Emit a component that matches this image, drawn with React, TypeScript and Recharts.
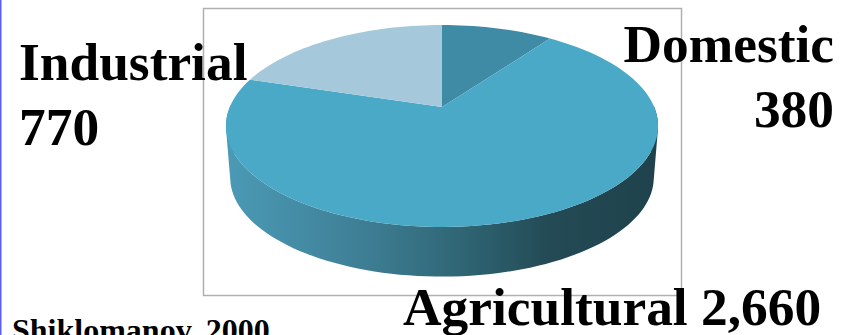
import { PieChart, Pie, Cell } from "recharts";

const sectors = ["Domestic", "Agricultural", "Industrial"];
const withdrawals = [380, 2660, 770];
const topColors = ["#3f8aa5", "#49a9c6", "#a5c9da"];

const chartData = sectors.map((name, i) => ({ name, value: withdrawals[i] }));

const WIDTH = 847;
const HEIGHT = 335;

// tilted disc: perspective makes the far side shorter than the near side
const TILT = 0.188;
const topFace = { x: 442, y: 107, a: 212.2, b: 97.4 };
const bottomFace = { x: 442, y: 159, a: 208, b: 95.5 };

type Face = typeof topFace;

const project = (face: Face, angle: number): number[] => {
  const rad = (angle * Math.PI) / 180;
  const u = Math.cos(rad);
  const v = Math.sin(rad);
  const d = 1 + TILT * v;
  return [face.x + (face.a * u) / d, face.y - (face.b * v) / d];
};

const arcAngles = (start: number, end: number): number[] => {
  const steps = Math.max(2, Math.ceil(Math.abs(end - start) / 2));
  const out: number[] = [];
  for (let i = 0; i <= steps; i++) out.push(start + ((end - start) * i) / steps);
  return out;
};

const toPath = (pts: number[][]) =>
  `M${pts.map((p) => `${p[0].toFixed(2)},${p[1].toFixed(2)}`).join("L")}Z`;

const signedArea = (pts: number[][]) =>
  pts.reduce((sum, p, i) => {
    const q = pts[(i + 1) % pts.length];
    return sum + p[0] * q[1] - q[0] * p[1];
  }, 0);

const TopSlice = (props: any) => {
  const rim = arcAngles(props.startAngle, props.endAngle).map((a) => project(topFace, a));
  return <path d={toPath([[topFace.x, topFace.y], ...rim])} fill={props.fill} stroke="none" />;
};

// near side of the rim as one path of same-wound quads, so the outline stays straight at the widest points
const WallSlice = (props: any) => {
  const angles = arcAngles(props.startAngle, props.endAngle);
  let d = "";
  for (let i = 0; i < angles.length - 1; i++) {
    const a = angles[i];
    const b = angles[i + 1];
    if (Math.sin((a * Math.PI) / 180) > 0 && Math.sin((b * Math.PI) / 180) > 0) continue;
    const quad = [project(topFace, a), project(topFace, b), project(bottomFace, b), project(bottomFace, a)];
    d += toPath(signedArea(quad) < 0 ? quad.reverse() : quad);
  }
  return d ? <path d={d} fill="url(#wallShade)" stroke="none" /> : null;
};

const fmt = (n: number) => n.toLocaleString("en-US");

const labelStyle = {
  fontFamily: "'Liberation Serif', serif",
  fontWeight: 700,
  fontSize: 53.4,
  fill: "#000000",
};

export default function App() {
  return (
    <div style={{ position: "absolute", left: 0, top: 0, width: WIDTH, height: HEIGHT, overflow: "hidden", background: "#fff" }}>
      <PieChart width={WIDTH} height={HEIGHT} margin={{ top: 0, right: 0, bottom: 0, left: 0 }}>
        <defs>
          <linearGradient id="wallShade" gradientUnits="userSpaceOnUse" x1="226" y1="0" x2="658" y2="0">
            <stop offset="0" stopColor="#4b9ab6" />
            <stop offset="0.3" stopColor="#3f8097" />
            <stop offset="0.55" stopColor="#2f6574" />
            <stop offset="0.75" stopColor="#234a55" />
            <stop offset="1" stopColor="#1f424c" />
          </linearGradient>
        </defs>
        <rect x={0} y={0} width={1.5} height={HEIGHT} fill="#5c5cff" />
        <rect x={203.5} y={8.5} width={478} height={287} fill="none" stroke="#b0b0b0" strokeWidth={1.5} />
        <Pie
          data={chartData}
          dataKey="value"
          nameKey="name"
          startAngle={90}
          endAngle={-270}
          paddingAngle={0}
          stroke="none"
          shape={WallSlice}
          activeShape={WallSlice}
          inactiveShape={WallSlice}
          isAnimationActive={false}
        />
        <Pie
          data={chartData}
          dataKey="value"
          nameKey="name"
          startAngle={90}
          endAngle={-270}
          paddingAngle={0}
          stroke="none"
          shape={TopSlice}
          activeShape={TopSlice}
          inactiveShape={TopSlice}
          isAnimationActive={false}
        >
          {chartData.map((d, i) => (
            <Cell key={d.name} fill={topColors[i]} />
          ))}
        </Pie>
        <text x={19} y={80} {...labelStyle}>{sectors[2]}</text>
        <text x={19} y={145} {...labelStyle}>{fmt(withdrawals[2])}</text>
        <text x={834} y={62} textAnchor="end" {...labelStyle}>{sectors[0]}</text>
        <text x={834} y={127} textAnchor="end" {...labelStyle}>{fmt(withdrawals[0])}</text>
        <text x={403} y={325} {...labelStyle}>{`${sectors[1]} ${fmt(withdrawals[1])}`}</text>
        <text x={12} y={341} {...labelStyle} fontSize={32}>Shiklomanov, 2000</text>
      </PieChart>
    </div>
  );
}
